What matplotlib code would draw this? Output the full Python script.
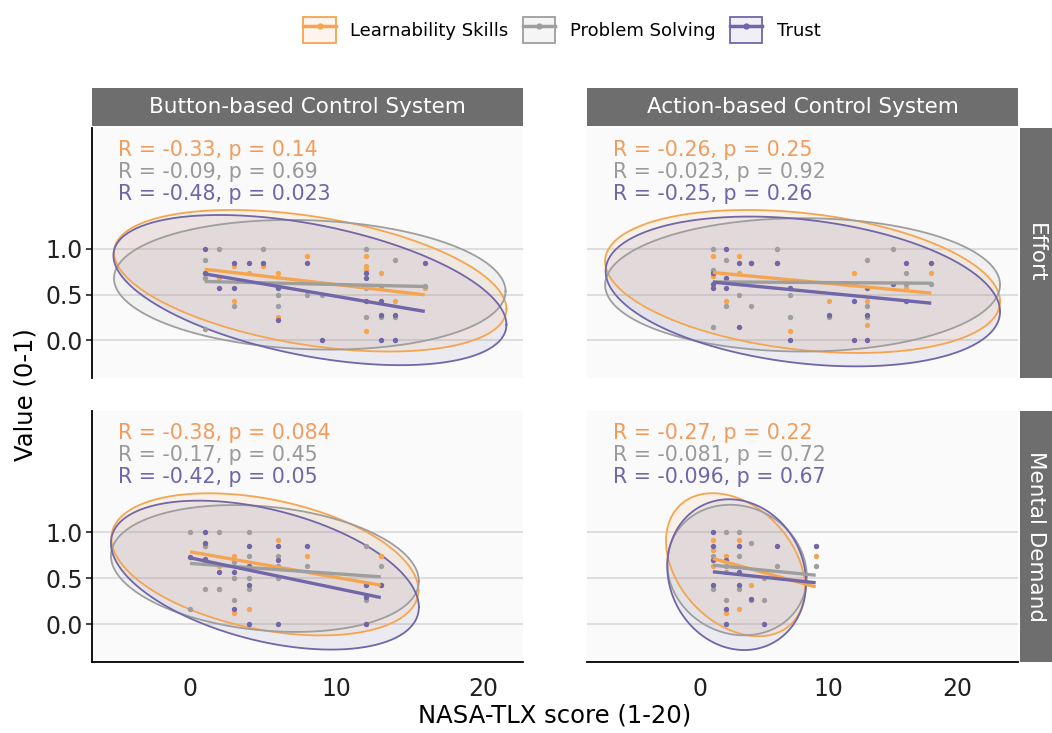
import numpy as np
import matplotlib.pyplot as plt
from matplotlib.lines import Line2D
from matplotlib.patches import Patch

series = ["Learnability Skills", "Problem Solving", "Trust"]
colors = ["#F5A54F", "#9E9E9E", "#7066A8"]
text_colors = ["#F39B5C", "#9A9A9A", "#6E66A8"]
systems = ["Button-based Control System", "Action-based Control System"]
measures = ["Effort", "Mental Demand"]

# ---- points (NASA-TLX score, value 0-1), one list per series ----
effort_button_x = [
    [1, 1, 2, 3, 3, 4, 5, 6, 6, 8, 12, 12, 12, 12, 13, 14, 16],
    [1, 1, 1, 2, 3, 5, 6, 6, 8, 9, 12, 12, 12, 13, 13, 14, 14, 16],
    [1, 1, 2, 3, 3, 4, 5, 6, 6, 8, 9, 12, 12, 12, 13, 13, 13, 14, 14, 16],
]
effort_button_y = [
    [0.74, 0.68, 0.68, 0.81, 0.43, 0.74, 0.81, 0.74, 0.26, 0.92, 0.92, 0.81, 0.77, 0.10, 0.74, 0.43, 0.57],
    [0.88, 0.68, 0.12, 1.0, 0.38, 1.0, 0.50, 0.38, 0.50, 0.50, 1.0, 0.57, 0.26, 0.60, 0.26, 0.88, 0.26, 0.60],
    [1.0, 0.74, 0.57, 0.85, 0.57, 0.85, 0.85, 0.57, 0.22, 0.85, 0.0, 0.74, 0.68, 0.43, 0.43, 0.28, 0.0, 0.28, 0.0, 0.85],
]
effort_action_x = [
    [1, 1, 2, 3, 3, 4, 6, 7, 10, 12, 13, 13, 16, 18],
    [1, 1, 1, 2, 2, 3, 4, 6, 7, 7, 10, 12, 13, 13, 13, 15, 16, 16, 18],
    [1, 1, 1, 2, 2, 2, 3, 3, 4, 6, 7, 7, 10, 12, 12, 13, 13, 13, 15, 16, 16, 18],
]
effort_action_y = [
    [0.92, 0.70, 0.43, 0.92, 0.74, 0.85, 0.85, 0.10, 0.43, 0.74, 0.43, 0.17, 0.57, 0.74],
    [1.0, 0.77, 0.15, 0.88, 0.38, 0.50, 0.38, 1.0, 0.50, 0.26, 0.26, 0.62, 0.88, 0.38, 0.26, 1.0, 0.74, 0.62, 0.62],
    [0.74, 0.62, 0.57, 1.0, 0.68, 0.57, 0.85, 0.15, 0.85, 0.85, 0.57, 0.0, 0.28, 0.43, 0.0, 0.57, 0.28, 0.0, 0.62, 0.85, 0.43, 0.85],
]
mental_button_x = [
    [0, 1, 1, 2, 2, 3, 3, 4, 6, 8, 12, 13, 13],
    [0, 0, 1, 1, 2, 2, 3, 3, 3, 4, 4, 4, 4, 6, 6, 6, 8, 12, 12, 12, 13],
    [0, 1, 1, 1, 2, 3, 3, 4, 4, 4, 4, 6, 6, 6, 8, 12, 12, 12, 13],
]
mental_button_y = [
    [0.73, 0.85, 0.68, 0.63, 0.38, 0.74, 0.12, 0.17, 0.92, 0.74, 0.43, 0.74, 0.43],
    [1.0, 0.17, 0.85, 0.38, 1.0, 0.38, 0.68, 0.50, 0.26, 1.0, 0.74, 0.50, 0.38, 0.74, 0.63, 0.50, 0.63, 0.85, 0.26, 0.0, 0.63],
    [0.73, 1.0, 0.88, 0.71, 0.57, 0.57, 0.17, 0.85, 0.63, 0.43, 0.0, 0.85, 0.70, 0.0, 0.85, 0.43, 0.30, 0.0, 0.43],
]
mental_action_x = [
    [1, 1, 1, 2, 2, 3, 3, 4, 9],
    [1, 1, 2, 2, 2, 2, 3, 3, 3, 4, 4, 5, 5, 6, 9],
    [1, 1, 1, 1, 2, 2, 2, 3, 3, 3, 4, 5, 6, 9],
]
mental_action_y = [
    [0.92, 0.81, 0.63, 0.74, 0.12, 0.92, 0.17, 0.43, 0.74],
    [0.74, 0.38, 1.0, 0.63, 0.57, 0.26, 1.0, 0.74, 0.38, 0.88, 0.26, 0.50, 0.26, 0.63, 0.63],
    [1.0, 0.85, 0.70, 0.43, 0.70, 0.17, 0.0, 0.85, 0.57, 0.43, 0.28, 0.0, 0.85, 0.85],
]

# ---- fitted lines: x0, y0, x1, y1 per series ----
effort_button_fit = [(1, 0.778, 16, 0.498), (1, 0.644, 16, 0.589), (1, 0.727, 16, 0.317)]
effort_action_fit = [(1, 0.742, 18, 0.517), (1, 0.64, 18, 0.625), (1, 0.637, 18, 0.407)]
mental_button_fit = [(0, 0.789, 13, 0.425), (0, 0.662, 13, 0.516), (0, 0.723, 13, 0.291)]
mental_action_fit = [(1, 0.716, 9, 0.407), (1, 0.643, 9, 0.534), (1, 0.571, 9, 0.452)]

# ---- ellipses: centre x, centre y, half width, half height, tilt (corr) ----
effort_button_ell = [(8.19, 0.652, 13.38, 0.773, -0.40), (8.16, 0.608, 13.35, 0.708, -0.10),
                     (8.17, 0.55, 13.4, 0.82, -0.46)]
effort_action_ell = [(7.98, 0.644, 15.37, 0.781, -0.28), (7.98, 0.607, 15.37, 0.728, 0.0),
                     (8.0, 0.535, 15.35, 0.818, -0.27)]
mental_button_ell = [(5.1, 0.652, 10.47, 0.773, -0.365), (5.1, 0.607, 10.5, 0.69, -0.2),
                     (5.1, 0.535, 10.5, 0.81, -0.43)]
mental_action_ell = [(2.76, 0.648, 5.41, 0.778, -0.33), (2.88, 0.59, 5.43, 0.71, -0.1),
                     (2.85, 0.54, 5.4, 0.82, -0.11)]

# ---- correlation labels ----
effort_button_stats = [("-0.33", "0.14"), ("-0.09", "0.69"), ("-0.48", "0.023")]
effort_action_stats = [("-0.26", "0.25"), ("-0.023", "0.92"), ("-0.25", "0.26")]
mental_button_stats = [("-0.38", "0.084"), ("-0.17", "0.45"), ("-0.42", "0.05")]
mental_action_stats = [("-0.27", "0.22"), ("-0.081", "0.72"), ("-0.096", "0.67")]

panels = {
    (0, 0): (effort_button_x, effort_button_y, effort_button_fit, effort_button_ell, effort_button_stats),
    (0, 1): (effort_action_x, effort_action_y, effort_action_fit, effort_action_ell, effort_action_stats),
    (1, 0): (mental_button_x, mental_button_y, mental_button_fit, mental_button_ell, mental_button_stats),
    (1, 1): (mental_action_x, mental_action_y, mental_action_fit, mental_action_ell, mental_action_stats),
}

x_limits = [(-6.69, 22.7), (-8.8, 24.75)]
y_limits = (-0.41, 2.32)

W, H = 1052, 733
fig = plt.figure(figsize=(W / 100, H / 100), dpi=100)

col_left = [92, 587]
panel_w = 431
row_top = [128, 411]
panel_h = [250, 251]
strip_col = "#6E6E6E"


def ellipse_path(cx, cy, hx, hy, rho):
    t = np.linspace(0, 2 * np.pi, 240)
    ex = cx + hx * np.cos(t)
    ey = cy + hy * (rho * np.cos(t) + np.sqrt(1 - rho ** 2) * np.sin(t))
    return ex, ey


for (r, c), (xs, ys, fits, ells, stats) in panels.items():
    left = col_left[c] / W
    bottom = 1 - (row_top[r] + panel_h[r]) / H
    ax = fig.add_axes([left, bottom, panel_w / W, panel_h[r] / H])
    ax.set_facecolor("#FAFAFA")
    ax.set_xlim(*x_limits[c])
    ax.set_ylim(*y_limits)
    ax.set_yticks([0, 0.5, 1.0])
    ax.set_xticks([0, 10, 20])
    ax.grid(axis="y", color="#D9D9D9", lw=1.2)
    ax.set_axisbelow(True)
    for s in ax.spines.values():
        s.set_visible(False)
    if c == 0:
        ax.spines["left"].set_visible(True)
        ax.spines["left"].set_linewidth(1.3)
        ax.set_yticklabels(["0.0", "0.5", "1.0"])
        ax.tick_params(axis="y", labelsize=17, length=4.5, width=1.2, pad=2, colors="#222222")
    else:
        ax.tick_params(axis="y", left=False, labelleft=False)
    if r == 1:
        ax.spines["bottom"].set_visible(True)
        ax.spines["bottom"].set_linewidth(1.3)
        ax.tick_params(axis="x", labelsize=17, length=0, pad=11, colors="#222222")
    else:
        ax.tick_params(axis="x", bottom=False, labelbottom=False)

    for i in range(3):
        ex, ey = ellipse_path(*ells[i])
        ax.fill(ex, ey, color=colors[i], alpha=0.1, lw=0)
    for i in range(3):
        ex, ey = ellipse_path(*ells[i])
        ax.plot(ex, ey, color=colors[i], lw=1.3)
    for i in range(3):
        ax.scatter(xs[i], ys[i], s=15, color=colors[i], lw=0, zorder=3)
    for i in range(3):
        x0, y0, x1, y1 = fits[i]
        ax.plot([x0, x1], [y0, y1], color=colors[i], lw=2.4, zorder=4, solid_capstyle="butt")
    for i in range(3):
        rv, pv = stats[i]
        ax.text(0.06, 0.912 - i * 0.088, f"R = {rv}, p = {pv}", transform=ax.transAxes,
                color=text_colors[i], fontsize=14.8, ha="left", va="center")

    if r == 0:
        sax = fig.add_axes([left, 1 - 126 / H, panel_w / W, 38 / H])
        sax.set_facecolor(strip_col)
        sax.set_xticks([])
        sax.set_yticks([])
        for s in sax.spines.values():
            s.set_visible(False)
        sax.text(0.5, 0.5, systems[c], color="white", fontsize=15.5,
                 ha="center", va="center", transform=sax.transAxes)
    if c == 1:
        sax = fig.add_axes([1020 / W, bottom, 32 / W, panel_h[r] / H])
        sax.set_facecolor(strip_col)
        sax.set_xticks([])
        sax.set_yticks([])
        for s in sax.spines.values():
            s.set_visible(False)
        sax.text(0.5, 0.5, measures[r], color="white", fontsize=15.5, rotation=-90,
                 ha="center", va="center", transform=sax.transAxes)

fig.text(25 / W, 1 - 395 / H, "Value (0-1)", rotation=90, fontsize=17.5,
         ha="center", va="center")
fig.text(555 / W, 1 - 716 / H, "NASA-TLX score (1-20)", fontsize=17.5,
         ha="center", va="center")

handles = []
for col in colors:
    box = Patch(facecolor=(*plt.matplotlib.colors.to_rgb(col), 0.1), edgecolor=col, lw=1.3)
    line = Line2D([], [], color=col, lw=2.5, marker="o", markersize=3.5)
    handles.append((box, line))
fig.legend(handles, series, loc="center", bbox_to_anchor=(562 / W, 1 - 30 / H),
           ncol=3, frameon=False, fontsize=13, handlelength=1.8, handleheight=1.9,
           handletextpad=0.8, columnspacing=0.8)

fig.savefig("out.png", dpi=100)
